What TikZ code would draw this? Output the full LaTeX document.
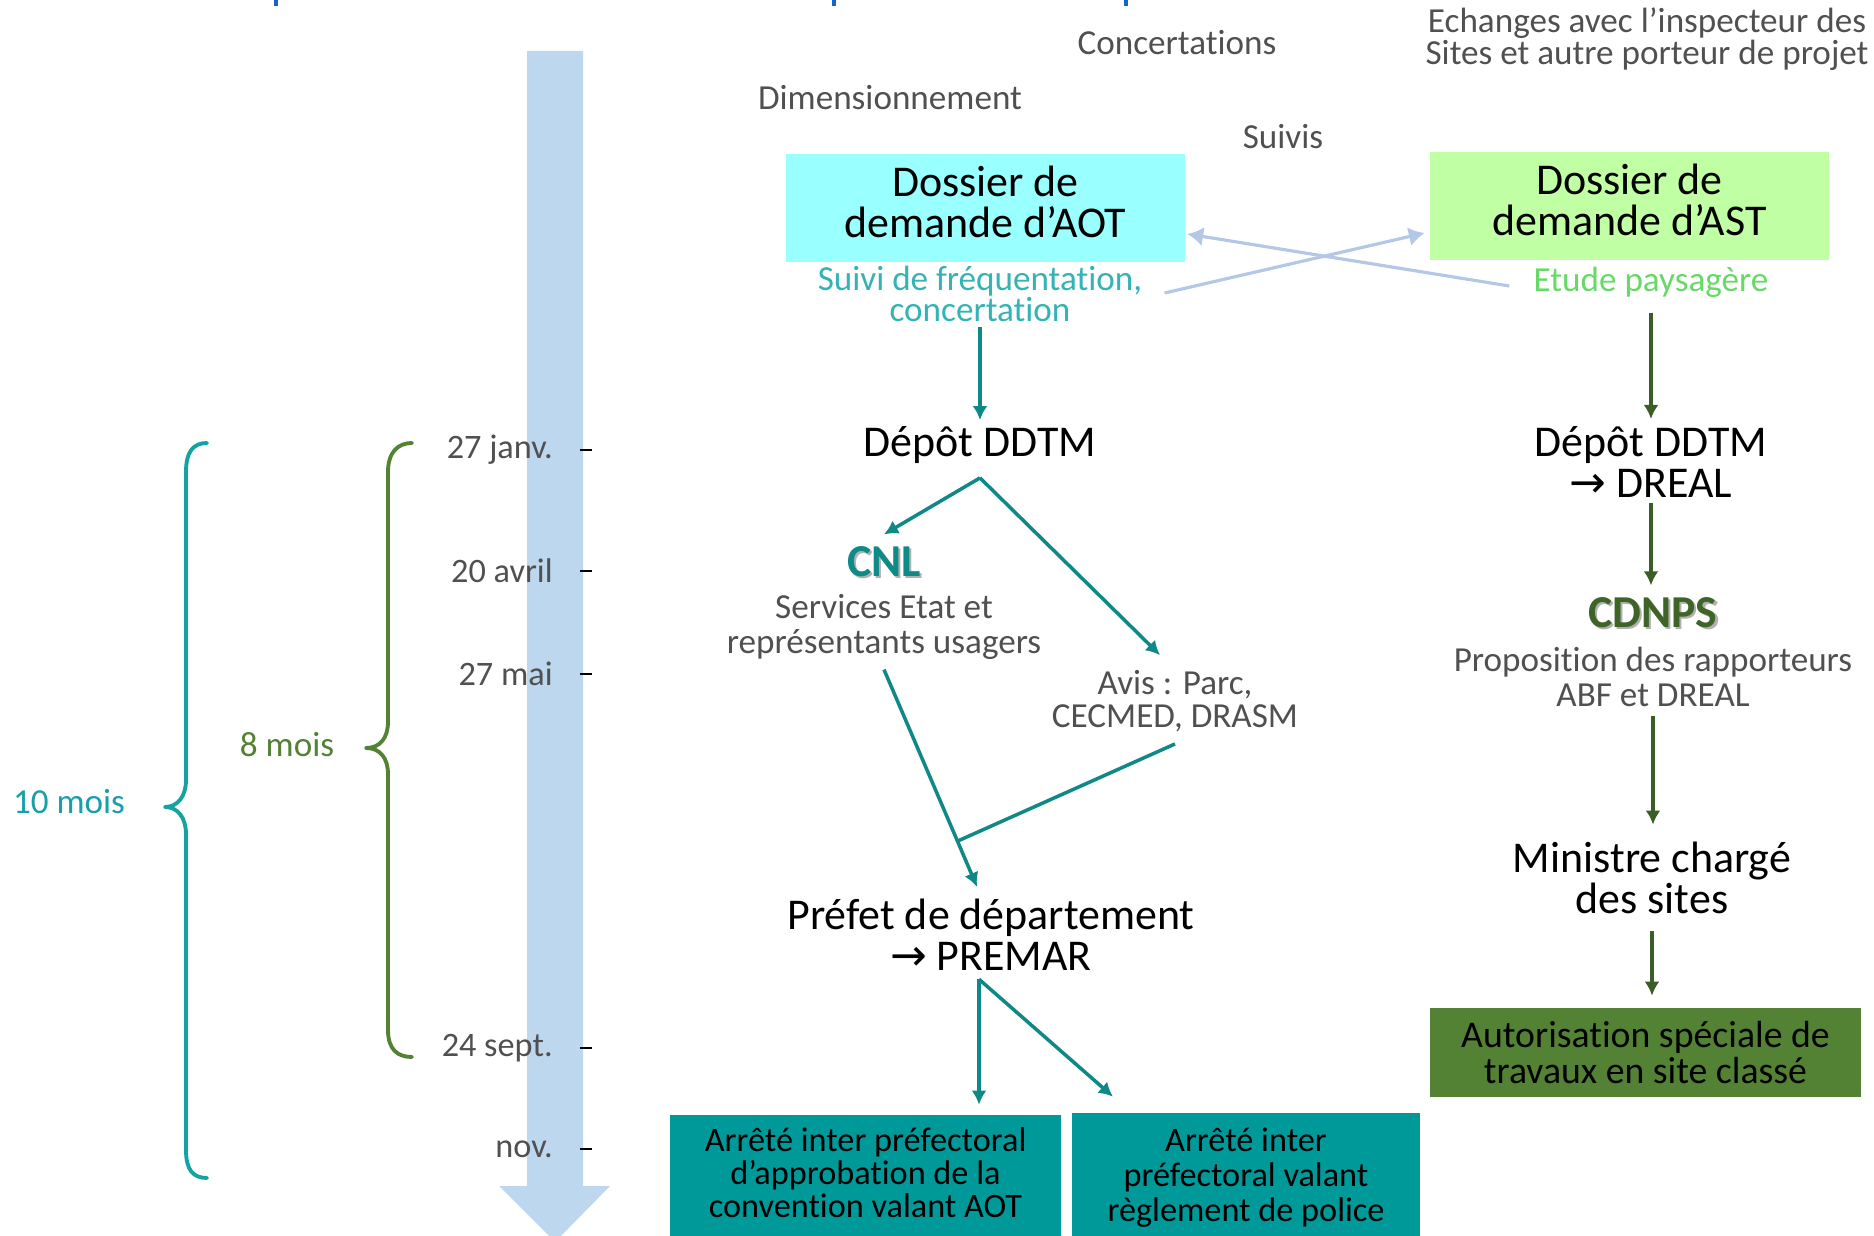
\documentclass[tikz,border=0pt]{standalone}
\usepackage{fontspec}
\setmainfont{Carlito}[Ligatures=NoCommon]
\newfontfamily\symbfont{DejaVu Sans}
\usetikzlibrary{arrows.meta}
\usetikzlibrary{calc}
\definecolor{aotfill}{HTML}{99FFFF}
\definecolor{astfill}{HTML}{C1FFA4}
\definecolor{boxteal}{HTML}{009999}
\definecolor{autfill}{HTML}{548235}
\definecolor{tealline}{HTML}{0F8987}
\definecolor{greenline}{HTML}{3B5E27}
\definecolor{cnlteal}{HTML}{0E8A87}
\definecolor{cdnpsgreen}{HTML}{3F6428}
\definecolor{paleblue}{HTML}{B4C7E7}
\definecolor{timeblue}{HTML}{BDD7EE}
\definecolor{braceteal}{HTML}{13A3A3}
\definecolor{moisteal}{HTML}{1A9FAA}
\definecolor{bracegreen}{HTML}{548235}
\definecolor{suiviteal}{HTML}{33B3B3}
\definecolor{etudegreen}{HTML}{66D966}
\definecolor{txtgrey}{HTML}{505050}
\definecolor{shadowgrey}{HTML}{B0B0B0}
\definecolor{titleblue}{HTML}{1565C8}
\newcommand\ombre[2]{\makebox[0pt][l]{\kern1.3pt\raisebox{-1.3pt}{\color{shadowgrey}#2}}{\color{#1}#2}}

\begin{document}
\begin{tikzpicture}[x=0.02cm,y=-0.02cm]
\tikzset{>={Latex[width=8.5pt,length=8pt]}}
\tikzstyle{light}=[inner sep=0pt,align=center,text=txtgrey,font=\fontsize{20}{19.5}\selectfont]
\tikzstyle{big}=[inner sep=0pt,align=center,font=\fontsize{25}{23.5}\selectfont]
\tikzstyle{dossier}=[big,minimum width=7.98cm,minimum height=2.16cm]
\tikzstyle{arrete}=[fill=boxteal,inner sep=0pt,align=center,font=\fontsize{19.5}{19}\selectfont]
\tikzstyle{sigle}=[inner sep=0pt,font=\fontsize{26}{26}\selectfont\bfseries]
\tikzstyle{datelbl}=[inner sep=0pt,anchor=east,text=txtgrey,font=\fontsize{19.5}{19.5}\selectfont]
\tikzstyle{datetick}=[line width=0.7pt]
\tikzstyle{tealarr}=[->,draw=tealline,line width=2pt]
\tikzstyle{tealline}=[draw=tealline,line width=2pt]
\tikzstyle{greenarr}=[->,draw=greenline,line width=1.9pt]
\tikzstyle{paleline}=[-{Latex[width=11pt,length=9pt]},draw=paleblue,line width=1.8pt]
\tikzstyle{bracepath}=[line width=2.2pt,line cap=round,line join=round]
\tikzstyle{titlemark}=[draw=titleblue,line width=2.3pt]

\useasboundingbox (0,0) rectangle (1874,1236);

\draw[titlemark] (276,-4) -- (276,6);
\draw[titlemark] (834,-4) -- (834,6);
\draw[titlemark] (1126,-4) -- (1126,6);

\fill[timeblue] (527,51) -- (583,51) -- (583,1186) -- (610,1186) -- (555,1242) -- (499,1186) -- (527,1186) -- cycle;
\foreach \d/\y/\n in {27 janv./450/a,20 avril/571/b,27 mai/674/c,24 sept./1048/d,nov./1149/e}{
  \node[datelbl](t\n) at (553,\y){\d};
  \draw[datetick] (580,\y) -- (592,\y);
}

\draw[bracepath,braceteal] (207,443) .. controls (193,443) and (186,452) .. (186,472) -- (186,780) .. controls (186,796) and (178,807) .. (165,807) .. controls (178,807) and (186,818) .. (186,834) -- (186,1150) .. controls (186,1170) and (193,1178) .. (207,1178);
\draw[bracepath,bracegreen] (412,443) .. controls (398,443) and (388,452) .. (388,472) -- (388,722) .. controls (388,738) and (380,748) .. (366,748) .. controls (380,748) and (388,758) .. (388,774) -- (388,1030) .. controls (388,1050) and (398,1057) .. (412,1057);
\node[light,text=moisteal](dix) at (69,802){10 mois};
\node[light,text=bracegreen](huit) at (287,745){8 mois};

\node[light](conc) at (1177,43){Concertations};
\node[light,font=\fontsize{20}{18.5}\selectfont](echanges) at (1647,39){Echanges avec l’inspecteur des\\Sites et autre porteur de projet};
\node[light](dimens) at (890,98){Dimensionnement};
\node[light](suivis) at (1283,137){Suivis};

\node[dossier,fill=aotfill](aot) at (985.5,208){Dossier de\\demande d’AOT\strut};
\node[dossier,fill=astfill](ast) at (1629.5,206){Dossier de\\demande d’AST\strut};
\node[light,text=suiviteal,font=\fontsize{20}{18}\selectfont](suiviaot) at (980,294){Suivi de fréquentation,\\concertation};
\node[light,text=etudegreen](etude) at (1651,282){Etude paysagère};

\node[big](depotaot) at (980,445){Dépôt DDTM};
\node[big](depotast) at (1651,462){Dépôt DDTM\\{\symbfont →} DREAL};
\node[sigle](cnl) at (884,563){\ombre{cnlteal}{CNL}};
\node[light](services) at (884,627){Services Etat et\\représentants usagers};
\node[light,font=\fontsize{20}{18.5}\selectfont](avis) at (1175,701){Avis : Parc,\\CECMED, DRASM};
\node[big](prefet) at (991,935){Préfet de département\\{\symbfont →} PREMAR};
\node[arrete,minimum width=7.82cm,minimum height=2.5cm](arr1) at (865.5,1177.5){Arrêté inter préfectoral\\d’approbation de la\\convention valant AOT\strut};
\node[arrete,minimum width=6.96cm,minimum height=2.6cm,font=\fontsize{19.5}{20}\selectfont](arr2) at (1246,1178){Arrêté inter\\préfectoral valant\\règlement de police};

\node[sigle](cdnps) at (1653,614){\ombre{cdnpsgreen}{CDNPS}};
\node[light](propos) at (1653,677){Proposition des rapporteurs\\ABF et DREAL};
\node[big](ministre) at (1652,878){Ministre chargé\\des sites};
\node[fill=autfill,inner sep=0pt,align=center,minimum width=8.62cm,minimum height=1.78cm,font=\fontsize{21.5}{20}\selectfont](autor) at (1645.5,1052.5){Autorisation spéciale de\\travaux en site classé};

\draw[paleline] ($(suiviaot.east)+(22,-1)$) -- ($(ast.west)+(-5,27)$);
\draw[paleline] ($(etude.west)+(-24,4)$) -- ($(aot.east)+(2,26)$);

\draw[tealarr,shorten <=0.1cm,shorten >=0.12cm] (suiviaot) -- (depotaot);
\coordinate (apexaot) at ($(depotaot.south)+(0,14)$);
\draw[tealarr] (apexaot) -- ($(cnl.north)+(0,-12)$);
\draw[tealarr] (apexaot) -- ($(avis.north)+(-15,-15)$);
\coordinate (cnlout) at ($(services.south)+(0,10)$);
\coordinate (prefin) at ($(prefet.north)+(-14,-12)$);
\coordinate (jonction) at ($(cnlout)!0.79!(prefin)$);
\draw[tealarr] (cnlout) -- (prefin);
\draw[tealline] ($(avis.south)+(0,12)$) -- (jonction);
\coordinate (apexpre) at ($(prefet.south)+(-12,8)$);
\draw[tealarr,shorten >=0.2cm] (apexpre) -- (apexpre |- arr1.north);
\draw[tealarr] (apexpre) -- ($(arr2.north)+(-133,-16)$);

\draw[greenarr,shorten <=0.3cm,shorten >=0.14cm] (etude) -- (depotast);
\draw[greenarr,shorten <=0.1cm,shorten >=0.24cm] (depotast.south) -- (depotast.south |- cdnps.north);
\draw[greenarr,shorten <=0.18cm,shorten >=0.34cm] (propos.south) -- (propos.south |- ministre.north);
\draw[greenarr,shorten <=0.34cm,shorten >=0.24cm] (ministre.south) -- (ministre.south |- autor.north);
\end{tikzpicture}
\end{document}
